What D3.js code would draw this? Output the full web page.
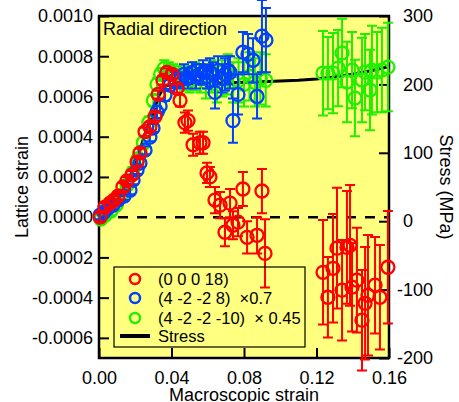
<!DOCTYPE html>
<html>
<head>
<meta charset="utf-8">
<script src="https://cdn.jsdelivr.net/npm/d3@7"></script>
<style>
  body { margin: 0; background: #fff; }
  text { font-family: "Liberation Sans", Arial, sans-serif; fill: #000; }
</style>
</head>
<body>
<script>

// ---- data ----
// (0 0 0 18) peak
var redX = [0.0006, 0.0033, 0.0061, 0.0083, 0.0105, 0.0132, 0.0154, 0.0182, 0.0210, 0.0226, 0.0254, 0.0281, 0.0309, 0.0326, 0.0353, 0.0375, 0.0403, 0.0430, 0.0447,
            0.0474, 0.0491, 0.0519, 0.0557, 0.0574, 0.0596, 0.0612, 0.0640, 0.0668, 0.0695, 0.0723, 0.0739, 0.0767, 0.0794, 0.0817, 0.0872, 0.0899, 0.0916,
            0.1236, 0.1263, 0.1291, 0.1313, 0.1341, 0.1368, 0.1385, 0.1396, 0.1423, 0.1451, 0.1468, 0.1484, 0.1523, 0.1550, 0.1594];
var redY = [0.0, 0.00005, 0.00007, 0.000085, 0.000105, 0.00015, 0.00018, 0.00021, 0.000275, 0.00032, 0.000425, 0.00045, 0.0005, 0.00061, 0.00068, 0.00072, 0.00071, 0.00064, 0.00058,
            0.00047, 0.00048, 0.00036, 0.00037, 0.00037, 0.00022, 0.0002, 0.000085, 0.00006, -0.000075, 0.00007, -0.00004, -0.000025, 0.00014, -0.0001, -0.00009, 0.00013, -0.00018,
            -0.000274, -0.000398, -0.000254, -0.000154, -0.000363, -0.00015, -0.00014, -0.000348, -0.000313, -0.000512, -0.000428, -0.000388, -0.000338, -0.000398, -0.000249];
var redErr = [0.00002, 0.00002, 0.00002, 0.00002, 0.00002, 0.00002, 0.00002, 0.00002, 0.00002, 0.00002, 0.00002, 0.00002, 0.00002, 0.00002, 0.00002, 0.00002, 0.00002, 0.00002, 0.00003,
              0.00005, 0.00005, 0.000055, 0.000055, 0.000055, 0.00005, 0.00005, 0.000065, 0.000065, 0.00007, 0.00007, 0.00007, 0.00007, 0.000085, 0.00008, 0.00009, 0.00011, 0.00017,
              0.00026, 0.0002, 0.00027, 0.0003, 0.00025, 0.00028, 0.0003, 0.00022, 0.00026, 0.00025, 0.00028, 0.0003, 0.00024, 0.00026, 0.00028];

// (4 -2 -2 8) x0.7
var blueX = [0.0006, 0.0028, 0.0050, 0.0077, 0.0105, 0.0138, 0.0171, 0.0188, 0.0210, 0.0226, 0.0254, 0.0281, 0.0298, 0.0320, 0.0337, 0.0364, 0.0392, 0.0419,
             0.0447, 0.0469, 0.0491, 0.0513, 0.0535, 0.0557, 0.0574, 0.0596, 0.0612, 0.0629, 0.0640, 0.0657, 0.0679, 0.0695, 0.0712, 0.0723, 0.0739, 0.0767, 0.0794, 0.0822, 0.0850, 0.0872, 0.0899, 0.0921];
var blueY = [0.00001, 0.000025, 0.000045, 0.00006, 0.000085, 0.000105, 0.000134, 0.000184, 0.000234, 0.000269, 0.000333, 0.000398, 0.000443, 0.000522, 0.000552, 0.000607, 0.000657, 0.000682,
             0.00068, 0.00071, 0.00069, 0.00072, 0.00070, 0.00071, 0.00072, 0.00070, 0.00072, 0.00071, 0.00062, 0.00073, 0.00069, 0.00071, 0.00073, 0.00072, 0.00048, 0.00061, 0.00082, 0.00081, 0.00078, 0.00060, 0.00090, 0.00088];
var blueErr = [0.00002, 0.00002, 0.00002, 0.00002, 0.00002, 0.00002, 0.00002, 0.00002, 0.00002, 0.00002, 0.00002, 0.00002, 0.00002, 0.00003, 0.00003, 0.00003, 0.00003, 0.00004,
               0.00004, 0.00005, 0.00005, 0.00005, 0.00006, 0.00005, 0.00006, 0.00006, 0.00007, 0.00006, 0.00008, 0.00007, 0.00007, 0.00008, 0.00007, 0.00008, 0.00011, 0.0001, 0.0001, 0.0001, 0.00011, 0.00011, 0.00018, 0.00016];

// (4 -2 -2 -10) x0.45
var greenX = [0.0010, 0.0035, 0.0065, 0.0095, 0.0125, 0.0155, 0.0185, 0.0215, 0.0245, 0.0275, 0.0300, 0.0320, 0.0340, 0.0360,
              0.0385, 0.0410, 0.0440, 0.0470, 0.0500, 0.0530, 0.0560, 0.0590, 0.0620, 0.0650, 0.0680, 0.0710, 0.0740, 0.0770, 0.0800, 0.0830, 0.0860, 0.0890, 0.0920,
              0.1236, 0.1263, 0.1291, 0.1319, 0.1341, 0.1368, 0.1396, 0.1412, 0.1451, 0.1468, 0.1495, 0.1506, 0.1534, 0.1561, 0.1594];
var greenY = [-0.00001, 0.00001, 0.00003, 0.00006, 0.00011, 0.00016, 0.00022, 0.00029, 0.00037, 0.00047, 0.00058, 0.00066, 0.00071, 0.00074,
              0.00073, 0.00071, 0.00070, 0.00069, 0.00068, 0.00070, 0.00069, 0.00067, 0.00070, 0.00066, 0.00069, 0.00071, 0.00067, 0.00068, 0.00066, 0.00070, 0.00067, 0.00069, 0.00068,
              0.000716, 0.000716, 0.000716, 0.000741, 0.000816, 0.000672, 0.000731, 0.000592, 0.000682, 0.000721, 0.000632, 0.000731, 0.000721, 0.000731, 0.000746];
var greenErr = [0.00002, 0.00002, 0.00002, 0.00002, 0.00002, 0.00002, 0.00003, 0.00003, 0.00003, 0.00003, 0.00003, 0.00003, 0.00003, 0.00004,
                0.00004, 0.00005, 0.00005, 0.00006, 0.00006, 0.00007, 0.00007, 0.00008, 0.00008, 0.00009, 0.00009, 0.0001, 0.0001, 0.00011, 0.00011, 0.00012, 0.00012, 0.00013, 0.00013,
                0.00021, 0.00018, 0.0002, 0.00019, 0.00017, 0.0002, 0.00019, 0.00019, 0.00021, 0.00019, 0.0002, 0.00022, 0.0002, 0.00021, 0.00022];

// macroscopic stress (MPa), right axis
var stressX = [0, 0.005, 0.010, 0.015, 0.020, 0.025, 0.030, 0.033, 0.036, 0.040, 0.050, 0.060, 0.070, 0.080, 0.090, 0.100, 0.110, 0.120, 0.130, 0.140, 0.150, 0.160];
var stressY = [0, 20, 35, 55, 80, 125, 155, 183, 197, 200, 201, 202, 202, 203, 204, 205, 206, 208, 211, 215, 220, 226];

var xTicks = [0, 0.04, 0.08, 0.12, 0.16];
var yTicks = [-0.0006, -0.0004, -0.0002, 0, 0.0002, 0.0004, 0.0006, 0.0008, 0.0010];
var stressTicks = [-200, -100, 0, 100, 200, 300];

var legendLabels = ["(0 0 0 18)", "(4 -2 -2 8)  \u00d70.7", "(4 -2 -2 -10)  \u00d7 0.45", "Stress"];
var colors = { red: "#ff0000", blue: "#0040ff", green: "#22ee00" };

// ---- layout ----
var W = 459, H = 402;
var plotL = 99, plotR = 389, plotT = 16, plotB = 358;

var svg = d3.select("body").append("svg")
    .attr("width", W)
    .attr("height", H);

var x = d3.scaleLinear().domain([0, 0.16]).range([plotL, plotR]);
var y = d3.scaleLinear().domain([-0.0007, 0.0010]).range([plotB, plotT]);
var y2 = d3.scaleLinear().domain([-200, 300]).range([plotB, plotT]);

// plot background
svg.append("rect")
    .attr("x", plotL).attr("y", plotT)
    .attr("width", plotR - plotL).attr("height", plotB - plotT)
    .attr("fill", "#ffff80");

// axes, ticks point inwards
var fs = "18px";

var gy = svg.append("g")
    .attr("transform", "translate(" + plotL + ",0)")
    .call(d3.axisLeft(y).tickValues(yTicks).tickSize(-10).tickPadding(6)
        .tickFormat(function (d) { return d.toFixed(4); }));

var gy2 = svg.append("g")
    .attr("transform", "translate(" + plotR + ",0)")
    .call(d3.axisRight(y2).tickValues(stressTicks).tickSize(-10).tickPadding(14)
        .tickFormat(function (d) { return String(d); }));
// hang the minus sign so the digits line up
gy2.selectAll("text").attr("dx", function (d) { return d < 0 ? "-6" : "0"; });

var gx = svg.append("g")
    .attr("transform", "translate(0," + plotB + ")")
    .call(d3.axisBottom(x).tickValues(xTicks).tickSize(-10).tickPadding(13)
        .tickFormat(function (d) { return d.toFixed(2); }));

[gx, gy, gy2].forEach(function (g) {
    g.select(".domain").remove();
    g.selectAll("line").attr("stroke", "#000").attr("stroke-width", 2);
    g.selectAll("text").style("font-size", fs).attr("fill", "#000")
        .style("font-family", "'Liberation Sans', Arial, sans-serif");
});

// frame
svg.append("rect")
    .attr("x", plotL).attr("y", plotT)
    .attr("width", plotR - plotL).attr("height", plotB - plotT)
    .attr("fill", "none")
    .attr("stroke", "#000")
    .attr("stroke-width", 2.5);

// axis titles
svg.append("text")
    .attr("transform", "translate(28," + (plotT + plotB) / 2 + ") rotate(-90)")
    .attr("text-anchor", "middle")
    .style("font-size", fs)
    .text("Lattice strain");

svg.append("text")
    .attr("transform", "translate(440," + (plotT + plotB) / 2 + ") rotate(90)")
    .attr("text-anchor", "middle")
    .style("font-size", fs)
    .text("Stress (MPa)");

svg.append("text")
    .attr("x", (plotL + plotR) / 2).attr("y", 401)
    .attr("text-anchor", "middle")
    .style("font-size", fs)
    .text("Macroscopic strain");

svg.append("text")
    .attr("x", 103).attr("y", 35)
    .style("font-size", fs)
    .text("Radial direction");

// zero line
svg.append("line")
    .attr("x1", plotL).attr("x2", plotR)
    .attr("y1", y(0)).attr("y2", y(0))
    .attr("stroke", "#000")
    .attr("stroke-width", 2.5)
    .attr("stroke-dasharray", "10,9");

// stress curve
var stressData = stressX.map(function (d, i) { return [d, stressY[i]]; });
svg.append("path")
    .datum(stressData)
    .attr("fill", "none")
    .attr("stroke", "#000")
    .attr("stroke-width", 3)
    .attr("d", d3.line()
        .x(function (d) { return x(d[0]); })
        .y(function (d) { return y2(d[1]); }));

// error bars + open circles
function drawSeries(xs, ys, es, color) {
    var data = xs.map(function (d, i) { return { x: d, y: ys[i], e: es[i] }; });
    var g = svg.append("g");

    g.selectAll("path.err")
        .data(data)
        .enter().append("path")
        .attr("class", "err")
        .attr("fill", "none")
        .attr("stroke", color)
        .attr("stroke-width", 2)
        .attr("d", function (d) {
            var px = x(d.x), y1 = y(d.y + d.e), yb = y(d.y - d.e);
            return "M" + px + "," + y1 + "V" + yb +
                "M" + (px - 5) + "," + y1 + "H" + (px + 5) +
                "M" + (px - 5) + "," + yb + "H" + (px + 5);
        });

    g.selectAll("circle")
        .data(data)
        .enter().append("circle")
        .attr("cx", function (d) { return x(d.x); })
        .attr("cy", function (d) { return y(d.y); })
        .attr("r", 6.5)
        .attr("fill", "none")
        .attr("stroke", color)
        .attr("stroke-width", 2.3);
}

drawSeries(greenX, greenY, greenErr, colors.green);
drawSeries(blueX, blueY, blueErr, colors.blue);
drawSeries(redX, redY, redErr, colors.red);

// legend
var lg = svg.append("g");
lg.append("rect")
    .attr("x", 114).attr("y", 267)
    .attr("width", 191).attr("height", 80)
    .attr("fill", "none")
    .attr("stroke", "#000")
    .attr("stroke-width", 1.2);

var legendColors = [colors.red, colors.blue, colors.green];
var rowY = [279, 298, 318, 336];

legendColors.forEach(function (c, i) {
    lg.append("circle")
        .attr("cx", 135).attr("cy", rowY[i])
        .attr("r", 5)
        .attr("fill", "none")
        .attr("stroke", c)
        .attr("stroke-width", 2.5);
});

lg.append("line")
    .attr("x1", 120).attr("x2", 150)
    .attr("y1", rowY[3]).attr("y2", rowY[3])
    .attr("stroke", "#000")
    .attr("stroke-width", 4);

legendLabels.forEach(function (t, i) {
    lg.append("text")
        .attr("x", 158).attr("y", rowY[i] + 6)
        .style("font-size", "16.5px")
        .style("white-space", "pre")
        .text(t);
});

</script>
</body>
</html>
